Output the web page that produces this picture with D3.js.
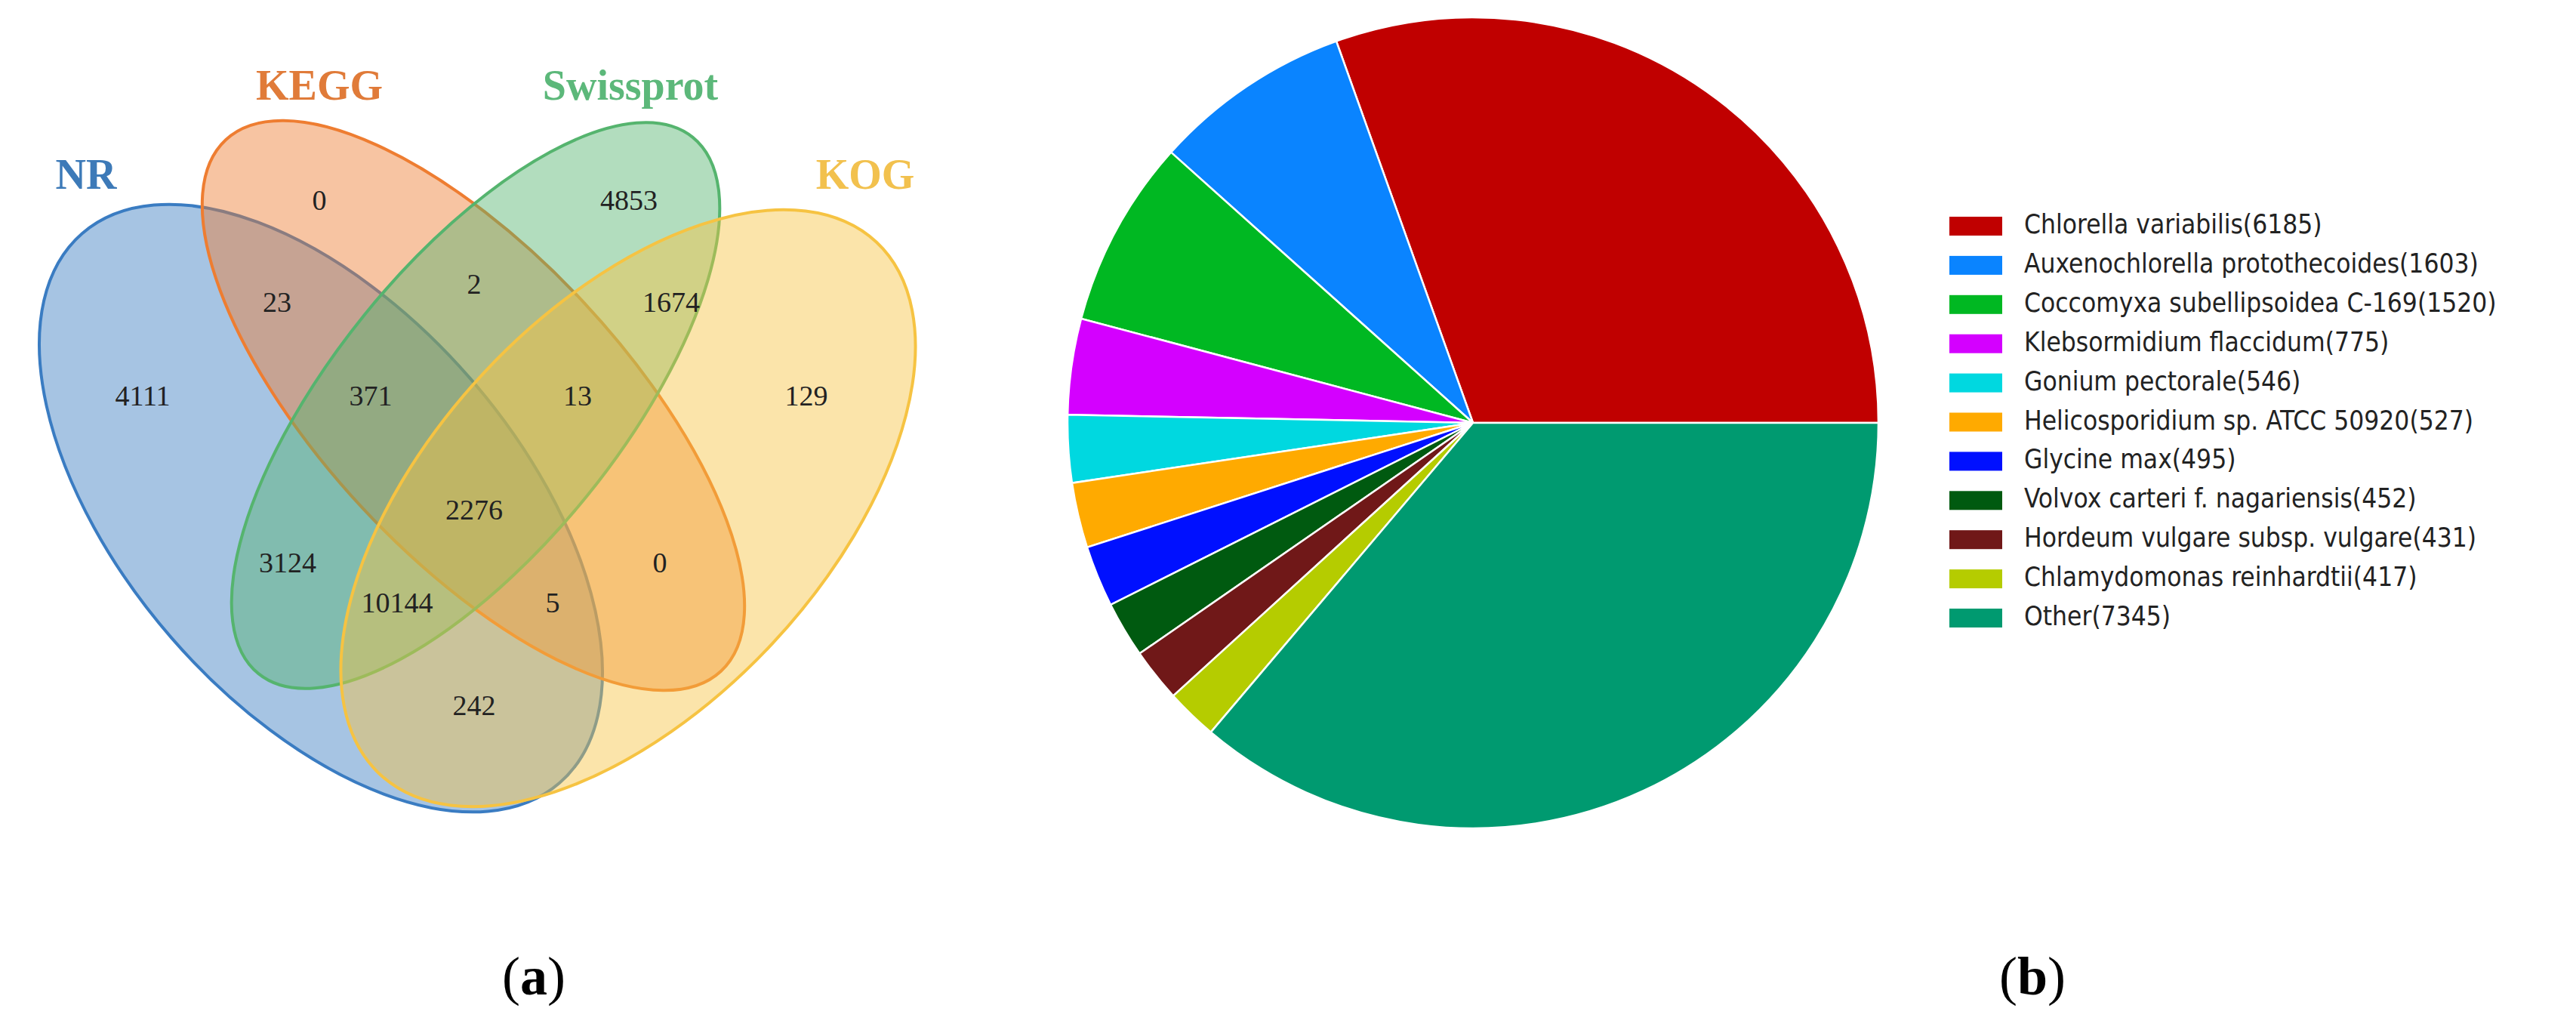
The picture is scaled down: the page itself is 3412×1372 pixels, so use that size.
<!DOCTYPE html>
<html><head><meta charset="utf-8">
<script src="https://cdn.jsdelivr.net/npm/d3@7"></script>
<style>body{margin:0;background:#fff}</style>
</head><body>
<svg width="3412" height="1372"></svg>
<script>
// venn sets
const sets = ['NR', 'KEGG', 'Swissprot', 'KOG'];
const setColors = ['#3a7cc2', '#ee7d31', '#55b46e', '#f6c342'];
const setLabelColors = ['#3d7ab8', '#e07b39', '#5cb87a', '#f2c14e'];
// region counts in drawing order
const regionValues = [0, 4853, 23, 2, 1674, 4111, 371, 13, 129, 2276, 3124, 0, 10144, 5, 242];

// pie data
const species = ['Chlorella variabilis', 'Auxenochlorella protothecoides', 'Coccomyxa subellipsoidea C-169',
  'Klebsormidium flaccidum', 'Gonium pectorale', 'Helicosporidium sp. ATCC 50920', 'Glycine max',
  'Volvox carteri f. nagariensis', 'Hordeum vulgare subsp. vulgare', 'Chlamydomonas reinhardtii', 'Other'];
const counts = [6185, 1603, 1520, 775, 546, 527, 495, 452, 431, 417, 7345];
const pieColors = ['#c00000', '#0a84ff', '#00b822', '#d400ff', '#00d8e0', '#ffaa00', '#0010ff',
  '#005a10', '#701818', '#b5cc00', '#009a70'];

const svg = d3.select('svg');

// ---- (a) venn ----
const ell = [
  {cx: 425, cy: 673, rx: 482, ry: 262, rot: 49},
  {cx: 627, cy: 537, rx: 481, ry: 200, rot: 47},
  {cx: 630, cy: 537, rx: 457, ry: 190, rot: -51},
  {cx: 832, cy: 673, rx: 482, ry: 262, rot: -47}
];
const g = svg.append('g');
g.selectAll('ellipse').data(ell).join('ellipse')
  .attr('transform', d => `translate(${d.cx},${d.cy}) rotate(${d.rot})`)
  .attr('rx', d => d.rx).attr('ry', d => d.ry)
  .attr('fill', (d, i) => setColors[i]).attr('fill-opacity', 0.45)
  .attr('stroke', (d, i) => setColors[i]).attr('stroke-width', 4);

const titlePos = [[114, 237], [423, 119], [835, 119], [1146, 237]];
g.selectAll('text.title').data(sets).join('text').attr('class', 'title')
  .attr('x', (d, i) => titlePos[i][0]).attr('y', (d, i) => titlePos[i][1])
  .attr('text-anchor', 'middle').attr('dominant-baseline', 'middle')
  .attr('font-family', 'Liberation Serif').attr('font-weight', 'bold').attr('font-size', 56)
  .attr('fill', (d, i) => setLabelColors[i]).text(d => d);

const regionPos = [[423, 269], [833, 269], [367, 404], [628, 380], [889, 404], [189, 528], [491, 528],
  [765, 528], [1068, 528], [628, 679], [381, 749], [874, 749], [526, 802], [732, 802], [628, 938]];
g.selectAll('text.num').data(regionValues).join('text').attr('class', 'num')
  .attr('x', (d, i) => regionPos[i][0]).attr('y', (d, i) => regionPos[i][1])
  .attr('text-anchor', 'middle').attr('dominant-baseline', 'middle')
  .attr('font-family', 'Liberation Serif').attr('font-size', 38).attr('fill', '#222')
  .text(d => d);

// ---- (b) pie ----
const pie = d3.pie().sort(null).startAngle(Math.PI / 2).endAngle(Math.PI / 2 - 2 * Math.PI);
const arc = d3.arc().innerRadius(0).outerRadius(537);
const pg = svg.append('g').attr('transform', 'translate(1951,560)');
pg.selectAll('path').data(pie(counts)).join('path')
  .attr('d', arc).attr('fill', (d, i) => pieColors[i])
  .attr('stroke', '#fff').attr('stroke-width', 2.5);

const lg = svg.append('g').attr('transform', 'translate(2582,299)');
const row = lg.selectAll('g').data(species).join('g')
  .attr('transform', (d, i) => `translate(0,${i * 51.9})`);
row.append('rect').attr('x', 0).attr('y', -12).attr('width', 70).attr('height', 25)
  .attr('fill', (d, i) => pieColors[i]);
row.append('text').attr('x', 99).attr('y', 0).attr('dominant-baseline', 'middle')
  .attr('font-family', 'DejaVu Sans Condensed, DejaVu Sans').attr('font-stretch', 'condensed')
  .attr('font-size', 35).attr('fill', '#222')
  .text((d, i) => `${d}(${counts[i]})`);

// panel labels
svg.selectAll('text.panel').data([['(', 'a', ')', 707], ['(', 'b', ')', 2692]]).join('text')
  .attr('class', 'panel').attr('x', d => d[3]).attr('y', 1300)
  .attr('text-anchor', 'middle').attr('dominant-baseline', 'middle')
  .attr('font-family', 'Liberation Serif').attr('font-size', 72).attr('fill', '#000')
  .each(function(d) {
    const t = d3.select(this);
    t.append('tspan').text(d[0]);
    t.append('tspan').attr('font-weight', 'bold').text(d[1]);
    t.append('tspan').text(d[2]);
  });
</script>
</body></html>
